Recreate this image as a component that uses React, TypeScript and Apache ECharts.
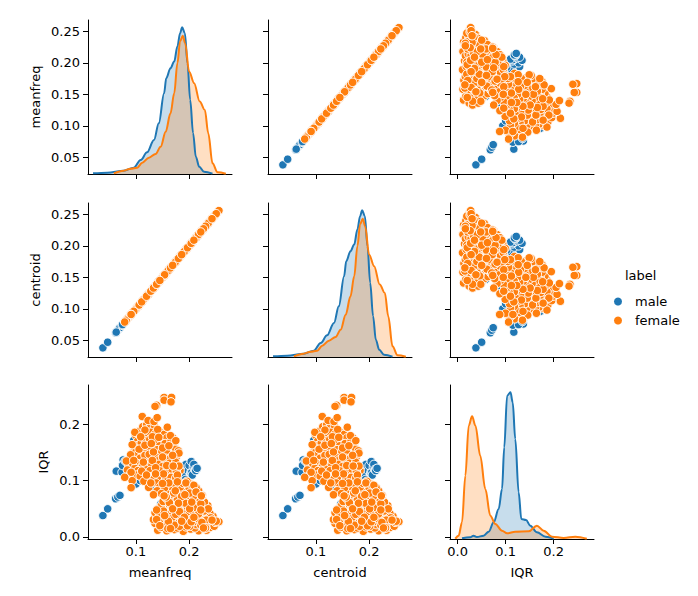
import React, { useEffect, useRef } from "react";
import * as echarts from "echarts";

const blue = "#1f77b4";
const orange = "#ff7f0e";
const labelFont = "DejaVu Sans";

const variables = ["meanfreq", "centroid", "IQR"];
const meanfreqTicks = [0.05, 0.1, 0.15, 0.2, 0.25];
const xTicksFreq = [0.1, 0.2];
const iqrTicksX = [0, 0.1, 0.2];
const iqrTicksY = [0, 0.1, 0.2];

// [meanfreq, IQR]; centroid equals meanfreq in this data
const malePoints: [number, number][] = [
  [0.038, 0.038], [0.047, 0.05], [0.062, 0.068], [0.066, 0.071], [0.07, 0.074], [0.063, 0.117], [0.074, 0.115],
  [0.076, 0.137], [0.08, 0.134], [0.075, 0.127], [0.087, 0.139], [0.08, 0.135], [0.09, 0.145], [0.095, 0.15],
  [0.1, 0.094], [0.108, 0.1], [0.096, 0.172], [0.098, 0.165], [0.105, 0.163], [0.125, 0.1], [0.128, 0.098],
  [0.13, 0.09], [0.129, 0.096], [0.138, 0.106], [0.135, 0.087], [0.128, 0.193], [0.147, 0.059], [0.142, 0.083],
  [0.15, 0.098], [0.156, 0.107], [0.162, 0.09], [0.168, 0.112], [0.171, 0.098], [0.176, 0.12], [0.18, 0.105],
  [0.185, 0.094], [0.188, 0.113], [0.193, 0.102], [0.194, 0.129], [0.198, 0.118], [0.2, 0.127], [0.203, 0.114],
  [0.204, 0.134], [0.205, 0.115], [0.206, 0.11], [0.208, 0.124], [0.209, 0.129], [0.211, 0.12], [0.212, 0.119],
  [0.2125, 0.118], [0.215, 0.122], [0.147, 0.115], [0.158, 0.122], [0.166, 0.082], [0.174, 0.086], [0.183, 0.078],
  [0.112, 0.143], [0.118, 0.126], [0.124, 0.135], [0.135, 0.119], [0.143, 0.127], [0.152, 0.134], [0.16, 0.101],
];

const femaleLowerMass: [number, number][] = [
  [0.141, 0.012], [0.158, 0.011], [0.172, 0.013], [0.189, 0.01], [0.203, 0.014], [0.218, 0.011], [0.233, 0.012],
  [0.147, 0.017], [0.164, 0.019], [0.178, 0.016], [0.194, 0.018], [0.211, 0.016], [0.226, 0.019], [0.24, 0.017],
  [0.136, 0.024], [0.152, 0.022], [0.169, 0.026], [0.184, 0.023], [0.199, 0.025], [0.214, 0.022], [0.229, 0.025], [0.243, 0.023], [0.252, 0.024],
  [0.133, 0.031], [0.146, 0.029], [0.161, 0.031], [0.176, 0.029], [0.191, 0.032], [0.206, 0.03], [0.221, 0.031], [0.236, 0.029], [0.248, 0.031], [0.256, 0.027],
  [0.139, 0.036], [0.155, 0.037], [0.171, 0.036], [0.187, 0.038], [0.201, 0.036], [0.217, 0.037], [0.231, 0.035], [0.245, 0.037],
  [0.136, 0.043], [0.149, 0.042], [0.165, 0.044], [0.18, 0.042], [0.196, 0.044], [0.21, 0.042], [0.225, 0.043], [0.239, 0.042],
  [0.141, 0.05], [0.158, 0.049], [0.173, 0.05], [0.188, 0.049], [0.204, 0.05], [0.219, 0.049], [0.234, 0.05],
  [0.148, 0.056], [0.163, 0.057], [0.178, 0.055], [0.194, 0.057], [0.209, 0.055], [0.224, 0.056], [0.235, 0.056],
  [0.151, 0.063], [0.169, 0.062], [0.184, 0.063], [0.199, 0.062], [0.214, 0.063], [0.229, 0.062],
  [0.157, 0.069], [0.174, 0.069], [0.19, 0.068], [0.205, 0.069], [0.22, 0.068],
  [0.166, 0.075], [0.181, 0.076], [0.197, 0.074], [0.212, 0.075], [0.224, 0.075],
  [0.16, 0.082], [0.175, 0.081], [0.189, 0.082], [0.204, 0.081], [0.218, 0.082],
  [0.168, 0.088], [0.184, 0.089], [0.2, 0.088], [0.213, 0.088],
  [0.174, 0.094], [0.189, 0.095], [0.203, 0.094], [0.179, 0.1], [0.196, 0.099],
  [0.154, 0.028], [0.167, 0.033], [0.182, 0.019], [0.197, 0.021], [0.212, 0.028], [0.228, 0.015], [0.241, 0.034],
  [0.145, 0.039], [0.16, 0.015], [0.175, 0.04], [0.19, 0.027], [0.207, 0.046], [0.222, 0.021], [0.238, 0.024],
  [0.152, 0.046], [0.167, 0.053], [0.182, 0.047], [0.197, 0.053], [0.213, 0.052], [0.228, 0.046], [0.243, 0.029],
  [0.144, 0.026], [0.157, 0.034], [0.172, 0.021], [0.186, 0.031], [0.201, 0.019], [0.216, 0.033], [0.232, 0.03], [0.247, 0.019],
  [0.163, 0.061], [0.178, 0.066], [0.193, 0.06], [0.208, 0.072], [0.222, 0.059], [0.171, 0.078], [0.186, 0.072], [0.201, 0.078],
];

const femaleUpperMass: [number, number][] = [
  [0.1, 0.18], [0.106, 0.188], [0.113, 0.196], [0.12, 0.199], [0.128, 0.198], [0.135, 0.196], [0.146, 0.186], [0.152, 0.182],
  [0.103, 0.17], [0.112, 0.175], [0.12, 0.181], [0.127, 0.186], [0.137, 0.184], [0.15, 0.172], [0.158, 0.176], [0.17, 0.176],
  [0.096, 0.158], [0.102, 0.162], [0.11, 0.167], [0.118, 0.171], [0.126, 0.173], [0.138, 0.168], [0.145, 0.162], [0.155, 0.166], [0.166, 0.17], [0.172, 0.162],
  [0.095, 0.15], [0.1, 0.152], [0.112, 0.152], [0.12, 0.156], [0.128, 0.158], [0.14, 0.155], [0.147, 0.15], [0.158, 0.151], [0.175, 0.156], [0.18, 0.153],
  [0.088, 0.14], [0.1, 0.144], [0.108, 0.14], [0.117, 0.145], [0.125, 0.147], [0.137, 0.143], [0.144, 0.137], [0.156, 0.14], [0.164, 0.139], [0.176, 0.142],
  [0.086, 0.128], [0.094, 0.13], [0.104, 0.13], [0.112, 0.126], [0.123, 0.131], [0.13, 0.127], [0.142, 0.129], [0.15, 0.125], [0.163, 0.131], [0.175, 0.133], [0.183, 0.118],
  [0.084, 0.119], [0.098, 0.122], [0.104, 0.118], [0.118, 0.12], [0.127, 0.118], [0.144, 0.118], [0.16, 0.118], [0.168, 0.12], [0.176, 0.117],
  [0.086, 0.108], [0.101, 0.11], [0.108, 0.108], [0.126, 0.107], [0.134, 0.104], [0.146, 0.106], [0.156, 0.103], [0.166, 0.106], [0.175, 0.105],
  [0.093, 0.1], [0.115, 0.099], [0.138, 0.096], [0.145, 0.089], [0.154, 0.087], [0.162, 0.096], [0.124, 0.088], [0.14, 0.082], [0.148, 0.077], [0.157, 0.071],
];

const femaleTopPoints: [number, number][] = [
  [0.153, 0.248], [0.153, 0.243], [0.167, 0.248], [0.166, 0.24], [0.139, 0.234], [0.136, 0.232], [0.112, 0.214], [0.123, 0.207],
  [0.134, 0.205], [0.14, 0.212], [0.098, 0.186], [0.117, 0.19], [0.141, 0.191], [0.159, 0.195], [0.109, 0.178],
  [0.131, 0.178], [0.143, 0.177], [0.165, 0.18], [0.175, 0.171], [0.093, 0.164], [0.106, 0.156], [0.117, 0.163],
  [0.129, 0.166], [0.15, 0.158], [0.162, 0.162], [0.133, 0.151], [0.181, 0.149], [0.169, 0.145], [0.09, 0.146],
  [0.082, 0.135], [0.096, 0.136], [0.114, 0.133], [0.15, 0.142], [0.131, 0.136], [0.181, 0.126], [0.158, 0.127],
  [0.17, 0.126], [0.137, 0.123], [0.091, 0.115], [0.079, 0.106], [0.111, 0.117], [0.12, 0.11], [0.152, 0.112],
  [0.178, 0.11], [0.137, 0.112], [0.128, 0.096], [0.15, 0.095], [0.091, 0.0875], [0.133, 0.075], [0.153, 0.073],
  [0.178, 0.098], [0.194, 0.096], [0.209, 0.092], [0.174, 0.082], [0.213, 0.08], [0.192, 0.075], [0.225, 0.073],
  [0.139, 0.048], [0.139, 0.031], [0.161, 0.028], [0.182, 0.045], [0.201, 0.05], [0.205, 0.062], [0.154, 0.038],
  [0.191, 0.035], [0.231, 0.016], [0.249, 0.026], [0.218, 0.041], [0.236, 0.05], [0.224, 0.026], [0.197, 0.02],
  [0.251, 0.028], [0.231, 0.016], [0.223, 0.073], [0.204, 0.027], [0.18, 0.06], [0.165, 0.015], [0.145, 0.02],
  [0.227, 0.016], [0.243, 0.03], [0.222, 0.048], [0.169, 0.05], [0.186, 0.028], [0.209, 0.035],
];

const femalePoints: [number, number][] = [...femaleLowerMass, ...femaleUpperMass, ...femaleTopPoints];

// [value, density]
const maleMeanfreqKde: [number, number][] = [
  [0.0195, 0.08], [0.046, 0.16], [0.077, 0.4], [0.096, 0.76], [0.109, 1.68], [0.121, 2.6], [0.134, 4.08], [0.143, 6.08],
  [0.153, 9.68], [0.157, 11.5], [0.165, 12.7], [0.172, 13.5], [0.178, 15.3], [0.183, 16.9], [0.187, 17.6], [0.192, 16.9],
  [0.197, 13.3], [0.202, 8.9], [0.2075, 4.9], [0.2126, 2.08], [0.219, 0.88], [0.228, 0.28], [0.244, 0.04],
];
const femaleMeanfreqKde: [number, number][] = [
  [0.0585, 0.08], [0.077, 0.4], [0.09, 0.64], [0.1025, 0.76], [0.112, 1.36], [0.1245, 1.96], [0.137, 2.4], [0.1465, 3.28],
  [0.156, 5.08], [0.165, 7.28], [0.172, 9.68], [0.178, 13.3], [0.183, 15.9], [0.188, 16.6], [0.1925, 15.7], [0.2, 12.3],
  [0.2094, 10.9], [0.22, 8.7], [0.2296, 7.68], [0.236, 4.88], [0.244, 1.28], [0.2535, 0.2], [0.269, 0.04],
];
const maleIqrKde: [number, number][] = [
  [0.009, 0.08], [0.026, 0.2], [0.033, 0.4], [0.04, 0.24], [0.054, 0.4], [0.0646, 0.88], [0.075, 2], [0.0854, 3.6],
  [0.0924, 6], [0.097, 11], [0.103, 17.2], [0.11, 17.6], [0.1146, 16.4], [0.12, 12], [0.127, 5.6], [0.1326, 2.4],
  [0.1424, 2.28], [0.1514, 1.6], [0.165, 0.8], [0.183, 0.28], [0.2, 0.04],
];
const femaleIqrKde: [number, number][] = [
  [-0.005, 0.04], [0.002, 0.4], [0.009, 2], [0.016, 7.6], [0.023, 13.6], [0.03, 14.72], [0.037, 13.6], [0.047, 10],
  [0.0576, 6], [0.068, 2.8], [0.0785, 1.8], [0.0924, 1], [0.103, 0.68], [0.12, 0.88], [0.148, 0.92], [0.165, 1.6],
  [0.179, 1], [0.1965, 0.28], [0.221, 0.12], [0.245, 0.28], [0.269, 0.04],
];

const colLeft = [88, 268, 450];
const rowTop = [20, 203, 385];
const panelW = 144;
const panelH = 154;
const xRanges: [number, number][] = [[0.01, 0.2806], [0.01, 0.2806], [-0.016, 0.284]];
const yRanges: [number, number][] = [[0.0235, 0.268], [0.0235, 0.268], [-0.0036, 0.27]];
const densityMax = 18.48;

function column(i: number, points: [number, number][]): number[] {
  return points.map((p) => (i === 2 ? p[1] : p[0]));
}

function buildOption() {
  const grid: any[] = [];
  const xAxis: any[] = [];
  const yAxis: any[] = [];
  const series: any[] = [];
  const axisBase = {
    type: "value",
    axisLine: { show: true, onZero: false, lineStyle: { color: "#000", width: 1 } },
    splitLine: { show: false },
  };
  const labelStyle = { color: "#000", fontFamily: labelFont, fontSize: 13 };

  for (let r = 0; r < 3; r++) {
    for (let c = 0; c < 3; c++) {
      const idx = r * 3 + c;
      grid.push({ left: colLeft[c], top: rowTop[r], width: panelW, height: panelH });
      const xt = c === 2 ? iqrTicksX : xTicksFreq;
      const yt = r === 2 ? iqrTicksY : meanfreqTicks;
      xAxis.push({
        ...axisBase,
        gridIndex: idx,
        min: xRanges[c][0],
        max: xRanges[c][1],
        axisTick: { show: true, length: 5, customValues: xt, lineStyle: { color: "#000", width: 1 } },
        axisLabel: {
          show: r === 2,
          customValues: xt,
          margin: 6,
          formatter: (v: number) => v.toFixed(1),
          ...labelStyle,
        },
        name: r === 2 ? variables[c] : "",
        nameLocation: "middle",
        nameGap: 27,
        nameTextStyle: labelStyle,
      });
      yAxis.push({
        ...axisBase,
        gridIndex: idx,
        min: yRanges[r][0],
        max: yRanges[r][1],
        axisTick: { show: true, length: 5, customValues: yt, lineStyle: { color: "#000", width: 1 } },
        axisLabel: {
          show: c === 0,
          customValues: yt,
          margin: 8,
          formatter: (v: number) => (r === 2 ? v.toFixed(1) : v.toFixed(2)),
          ...labelStyle,
        },
        name: c === 0 ? variables[r] : "",
        nameLocation: "middle",
        nameRotate: 90,
        nameGap: r === 2 ? 38 : 46,
        nameTextStyle: labelStyle,
      });
    }
  }

  for (let r = 0; r < 3; r++) {
    for (let c = 0; c < 3; c++) {
      const idx = r * 3 + c;
      if (r === c) {
        const densIdx = yAxis.length;
        yAxis.push({
          type: "value",
          gridIndex: idx,
          min: 0,
          max: densityMax,
          show: false,
        });
        const kdes: [string, [number, number][], string][] =
          r === 2
            ? [["male density", maleIqrKde, blue], ["female density", femaleIqrKde, orange]]
            : [["male density", maleMeanfreqKde, blue], ["female density", femaleMeanfreqKde, orange]];
        for (const [name, data, color] of kdes) {
          series.push({
            type: "line",
            name,
            xAxisIndex: idx,
            yAxisIndex: densIdx,
            data,
            showSymbol: false,
            smooth: 0.35,
            smoothMonotone: "x",
            lineStyle: { color, width: 2 },
            itemStyle: { color },
            areaStyle: { color, opacity: 0.25 },
          });
        }
      } else {
        const sets: [string, [number, number][], string][] = [
          ["male", malePoints, blue],
          ["female", femalePoints, orange],
        ];
        for (const [name, pts, color] of sets) {
          const xs = column(c, pts);
          const ys = column(r, pts);
          series.push({
            type: "scatter",
            name,
            xAxisIndex: idx,
            yAxisIndex: idx,
            data: xs.map((x, i) => [x, ys[i]]),
            symbol: "circle",
            symbolSize: 8.5,
            itemStyle: { color, opacity: 1, borderColor: "#fff", borderWidth: 1 },
          });
        }
      }
    }
  }

  return {
    animation: false,
    backgroundColor: "#fff",
    grid,
    xAxis,
    yAxis,
    series,
    legend: {
      data: ["male", "female"],
      orient: "vertical",
      left: 609,
      top: 290,
      itemWidth: 8,
      itemHeight: 8,
      itemGap: 6,
      icon: "circle",
      textStyle: { ...labelStyle, padding: [0, 0, 0, 8] },
      selectedMode: false,
      itemStyle: { borderWidth: 0 },
    },
    graphic: [
      {
        type: "text",
        left: 625,
        top: 269,
        style: { text: "label", fill: "#000", font: `13px "${labelFont}"` },
      },
    ],
  };
}

export default function App() {
  const ref = useRef<HTMLDivElement>(null);
  useEffect(() => {
    document.body.style.margin = "0";
    const chart = echarts.init(ref.current!, undefined, { renderer: "svg" });
    chart.setOption(buildOption());
    return () => chart.dispose();
  }, []);
  return <div ref={ref} style={{ width: 698, height: 596 }} />;
}
